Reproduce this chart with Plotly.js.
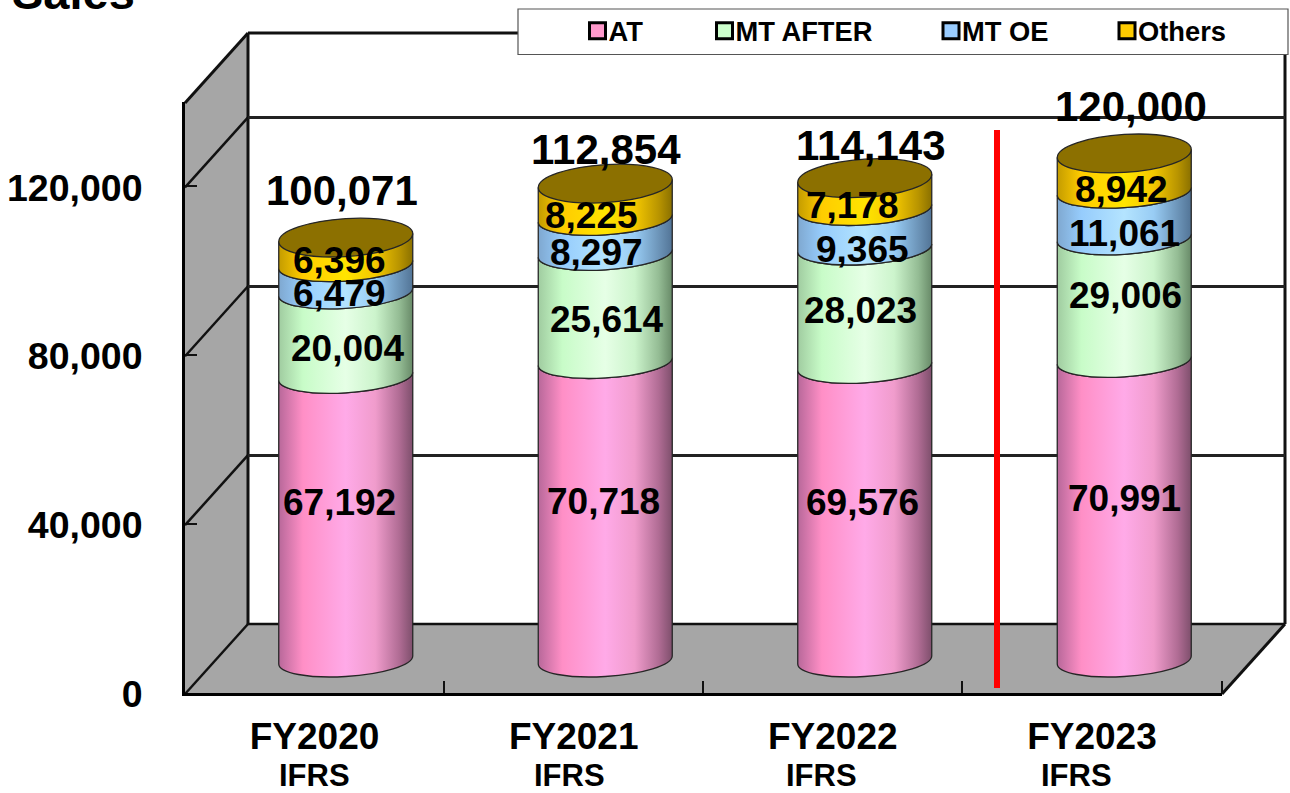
<!DOCTYPE html>
<html><head><meta charset="utf-8">
<script src="https://cdn.plot.ly/plotly-3.0.1.min.js"></script>
<style>html,body{margin:0;padding:0;background:#fff;overflow:hidden}</style>
</head><body><div id="chart" style="width:1290px;height:793px"></div>
<script>
const categories = ['FY2020','FY2021','FY2022','FY2023'];
const subLabels = ['IFRS','IFRS','IFRS','IFRS'];
const seriesNames = ['AT','MT AFTER','MT OE','Others'];
const atValues = [67192,70718,69576,70991];
const mtAfterValues = [20004,25614,28023,29006];
const mtOeValues = [6479,8297,9365,11061];
const othersValues = [6396,8225,7178,8942];
const totals = [100071,112854,114143,120000];
const yTicks = [0,40000,80000,120000];

// styling & label placement (pixels)
const W=1290,H=793, FONT='"Liberation Sans", Arial, sans-serif';
const seriesValues=[atValues,mtAfterValues,mtOeValues,othersValues];
const baseColors=['#ff99cc','#ccffcc','#99ccff','#ffcc00'];
const gradStops=[
 [['0','#b8689a'],['.18','#ff8fc6'],['.5','#ffaae8'],['.72','#f09ccc'],['.9','#b06c94'],['1','#7e4f6c']],
 [['0','#a0cca0'],['.18','#c8fcc8'],['.5','#e6ffe6'],['.72','#ccf4cc'],['.9','#94bc94'],['1','#688a68']],
 [['0','#7fa8d0'],['.18','#96ccfc'],['.5','#b4e4ff'],['.72','#98ccf4'],['.9','#6c94b8'],['1','#527496']],
 [['0','#c49c00'],['.18','#ffcc00'],['.5','#ffe400'],['.72','#f4c800'],['.9','#b89400'],['1','#8a7000']]
];
const lidColor='#8c7000';
const xNudge=[[-6,2,-6,-6],[-2,2,-9,-14],[-2,-4,-2,-12],[0,1,0,-3]];
const yNudge=[[-16,14,15,9],[-9,12,17,15],[-11,3,21,12],[-12,-4,19,17]];
const totalDx=[-4,1,6,7];
const totalDy=[-47,-34,-33,-47];
const ifrsPx=[314.5,569,821,1076];
const legendSwatchPx=[597.5,724.5,951,1127];

const K=591/140000;                 // px per value unit
const px=x=>x/W, py=y=>1-y/H;
const floorFront=694,floorBack=624,frontL=184,frontR=1222,backL=248,backR=1285;
const cylR=67/259.5, tiltV=4/K, lowB=16.5/K, lidB=19/K, C=0.5523;

function X(i,u){return i+u*cylR;}
function Y(c,u,v,b){return c+tiltV*u-b*v;}
function halfCurve(i,c,b,rev){
  const p=[[-1,0],[-1,C],[-C,1],[0,1],[C,1],[1,C],[1,0]].map(([u,v])=>[X(i,u),Y(c,u,v,b)]);
  if(rev)p.reverse();
  const f=q=>q[0]+','+q[1];
  return {start:f(p[0]),rest:`C${f(p[1])} ${f(p[2])} ${f(p[3])} C${f(p[4])} ${f(p[5])} ${f(p[6])}`};
}
function lidPath(i,c){
  const low=halfCurve(i,c,lidB,false);
  const high=[[1,0],[1,-C],[C,-1],[0,-1],[-C,-1],[-1,-C],[-1,0]].map(([u,v])=>X(i,u)+','+Y(c,u,v,lidB));
  return `M${low.start} ${low.rest} C${high[1]} ${high[2]} ${high[3]} C${high[4]} ${high[5]} ${high[6]} Z`;
}
const line=(x0,y0,x1,y1,w,c)=>({type:'line',xref:'paper',yref:'paper',x0:px(x0),y0:py(y0),x1:px(x1),y1:py(y1),line:{color:c||'#111',width:w},layer:'below'});
const poly=(pts,fill)=>({type:'path',xref:'paper',yref:'paper',layer:'below',fillcolor:fill,line:{width:0},
  path:'M'+pts.map(p=>px(p[0])+','+py(p[1])).join(' L')+' Z'});

const shapes=[
  poly([[frontL,103],[backL,33],[backL,floorBack],[frontL,floorFront]],'#a6a6a6'),
  poly([[frontL,floorFront],[backL,floorBack],[backR,floorBack],[frontR,floorFront]],'#a6a6a6'),
  line(frontL+1,103,backL,33,3), line(backL,33,backR,33,3), line(backL,33,backL,floorBack,3),
  line(backR,33,backR,floorBack,3), line(backL,floorBack,backR,floorBack,2.5),
  line(frontL+1,floorFront,backL,floorBack,2.5), line(frontR,floorFront,backR,floorBack,3)
];
yTicks.slice(1).forEach(v=>shapes.push(line(frontL+1,floorFront-v*K,backL,floorBack-v*K,2.5)));

const gradShapes=[];
categories.forEach((c,i)=>{
  let cum=0;
  seriesValues.forEach((vals,s)=>{
    const next=cum+vals[i];
    const top=halfCurve(i,next,lowB,false), bot=halfCurve(i,cum,lowB,true);
    gradShapes.push([shapes.length,s]);
    shapes.push({type:'path',xref:'x2',yref:'y2',layer:'above',fillcolor:baseColors[s],
      line:{color:'#262626',width:1.3},
      path:`M${top.start} ${top.rest} L${bot.start} ${bot.rest} Z`});
    cum=next;
  });
  shapes.push({type:'path',xref:'x2',yref:'y2',layer:'above',fillcolor:lidColor,line:{color:'#262626',width:1.3},path:lidPath(i,cum)});
});
shapes.push(line(997,130,997,688,6,'#ff0000'));
shapes[shapes.length-1].layer='above';
shapes.push({type:'rect',xref:'paper',yref:'paper',layer:'above',x0:px(518),x1:px(1288),y0:py(54.5),y1:py(9),fillcolor:'#fff',line:{color:'#555',width:1.2}});

const ann=[];
const bold=(s)=>({family:FONT,size:s,color:'#000',weight:700});
ann.push({xref:'paper',yref:'paper',x:px(10),y:py(8),xanchor:'left',yanchor:'bottom',text:'Sales',showarrow:false,font:bold(47),yshift:-13});
categories.forEach((c,i)=>{
  let cum=0;
  seriesValues.forEach((vals,s)=>{
    ann.push({xref:'x2',yref:'y2',x:i,y:cum+vals[i]/2,text:vals[i].toLocaleString('en-US'),showarrow:false,font:bold(37),
      xshift:xNudge[i][s],yshift:-yNudge[i][s]});
    cum+=vals[i];
  });
  ann.push({xref:'x2',yref:'y2',x:i,y:totals[i],text:totals[i].toLocaleString('en-US'),showarrow:false,font:bold(42),xshift:totalDx[i],yshift:-totalDy[i]});
  ann.push({xref:'paper',yref:'paper',x:px(ifrsPx[i]),y:py(775),xanchor:'center',yanchor:'middle',text:subLabels[i],showarrow:false,font:bold(31)});
});

const idx=categories.map((c,i)=>i);
const traces=seriesNames.map((n,s)=>({type:'bar',name:n,x:idx,y:seriesValues[s],xaxis:'x2',yaxis:'y2',width:0.46,
  marker:{color:baseColors[s],line:{color:'#000',width:3}},hoverinfo:'y+name'}));
traces.push({type:'scatter',mode:'markers',x:idx,y:totals,xaxis:'x',yaxis:'y',marker:{opacity:0},showlegend:false,hoverinfo:'skip'});
traces.push({type:'scatter',mode:'markers',x:idx,y:totals,xaxis:'x3',yaxis:'y3',marker:{opacity:0},showlegend:false,hoverinfo:'skip'});

const layout={
  width:W,height:H,margin:{l:0,r:0,t:0,b:0,autoexpand:false},paper_bgcolor:'#fff',plot_bgcolor:'rgba(0,0,0,0)',
  barmode:'stack',font:{family:FONT,color:'#000'},
  showlegend:true,
  legend:{orientation:'h',x:px(520),y:py(31),xanchor:'left',yanchor:'middle',bgcolor:'rgba(0,0,0,0)',borderwidth:0,
    font:bold(27.3),entrywidth:190,entrywidthmode:'pixels',traceorder:'normal'},
  xaxis:{domain:[px(frontL+1),px(frontR-.5)],range:[-0.5,3.5],anchor:'y',tickmode:'array',tickvals:idx,ticktext:categories,
    tickfont:bold(37),ticks:'',showgrid:false,zeroline:false,showline:true,linecolor:'#000',linewidth:3,ticklabelstandoff:9,
    minor:{tickmode:'array',tickvals:[0.5,1.5,2.5,3.5],ticks:'inside',ticklen:12,tickwidth:1.5,tickcolor:'#111',showgrid:false}},
  yaxis:{domain:[py(floorFront-1.2),py(102)],range:[0,140000],anchor:'x',tickmode:'array',tickvals:yTicks,ticktext:yTicks.map(v=>v.toLocaleString('en-US')),
    tickfont:bold(37.5),ticks:'inside',ticklen:12,tickwidth:1.5,tickcolor:'#111',showgrid:false,zeroline:false,showline:true,linecolor:'#000',linewidth:3,ticklabelstandoff:32,ticklabelshift:1},
  xaxis2:{domain:[px(frontL+32),px(frontR+32)],range:[-0.5,3.5],anchor:'y2',visible:false},
  yaxis2:{domain:[py(660+8000*K),py(69)],range:[-8000,140000],anchor:'x2',visible:false},
  xaxis3:{domain:[px(backL),px(backR)],range:[-0.5,3.5],anchor:'y3',visible:false},
  yaxis3:{domain:[py(floorBack),py(33)],range:[0,140000],anchor:'x3',showticklabels:false,ticks:'',tickmode:'array',tickvals:yTicks.slice(1),
    showgrid:true,gridcolor:'#222',gridwidth:2.5,zeroline:false,showline:false},
  shapes:shapes,annotations:ann,
  hovermode:'closest'
};

Plotly.newPlot('chart',traces,layout,{displayModeBar:false,responsive:false}).then(gd=>{
  const svg=gd.querySelector('svg.main-svg');
  const NS='http://www.w3.org/2000/svg';
  let defs=svg.querySelector('defs');
  gradStops.forEach((st,s)=>{
    const g=document.createElementNS(NS,'linearGradient');
    g.setAttribute('id','cyl'+s);g.setAttribute('x1','0');g.setAttribute('x2','1');g.setAttribute('y1','0');g.setAttribute('y2','0');
    st.forEach(([o,c])=>{const e=document.createElementNS(NS,'stop');e.setAttribute('offset',o);e.setAttribute('stop-color',c);g.appendChild(e);});
    defs.appendChild(g);
  });
  gradShapes.forEach(([idx,s])=>{
    const p=gd.querySelector('.layer-above .shapelayer path[data-index="'+idx+'"]');
    if(p)p.style.fill='url(#cyl'+s+')';
  });
  const legendLeft=gd.querySelector('.legend');
  const m=/translate\(([-\d.]+)[ ,]+([-\d.]+)\)/.exec(legendLeft.getAttribute('transform'));
  const lx=m?parseFloat(m[1]):520;
  gd.querySelectorAll('.legend .traces').forEach((t,i)=>{
    const mm=/translate\(([-\d.]+)[ ,]+([-\d.]+)\)/.exec(t.getAttribute('transform'));
    const ty=mm?mm[2]:0;
    t.setAttribute('transform','translate('+(legendSwatchPx[i]-lx-20)+','+ty+')');
    const p=t.querySelector('.legendpoints path');
    if(p){p.setAttribute('d','M8,8H-8V-8H8Z');p.style.strokeWidth='3px';p.style.stroke='#000';}
    const tx=t.querySelector('.legendtext');
    if(tx)tx.setAttribute('x','31');
  });
});
</script></body></html>
